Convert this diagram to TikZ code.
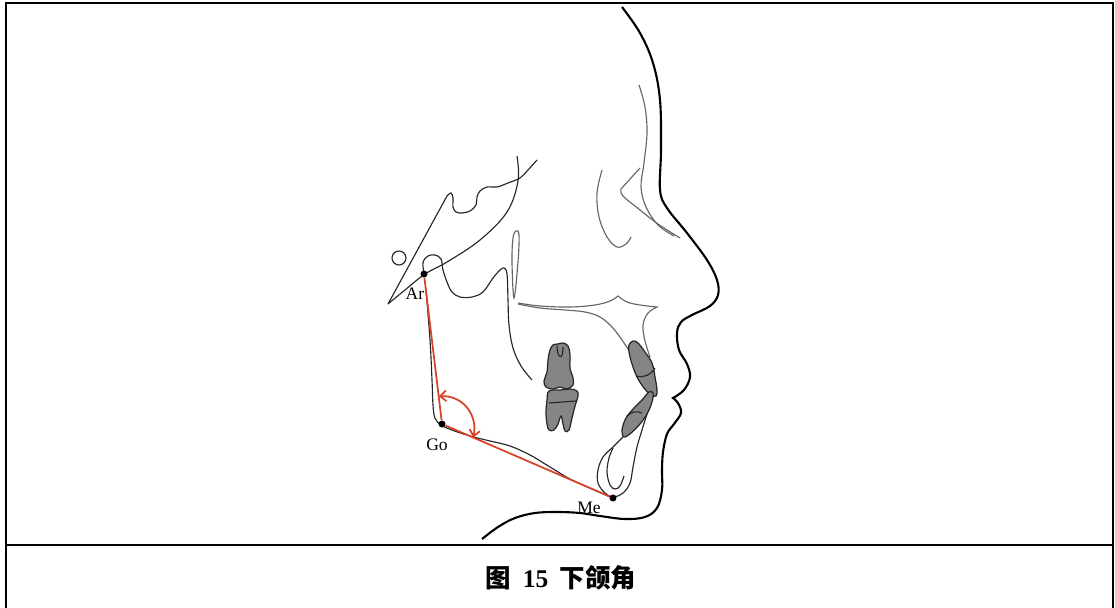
\documentclass[tikz,border=0pt]{standalone}
\usepackage{fontspec}
\setmainfont{Liberation Serif}
\newfontfamily\cjk{Noto Sans CJK SC}
\usetikzlibrary{arrows.meta,calc}
\definecolor{cephred}{RGB}{214,66,42}

\begin{document}
\begin{tikzpicture}[x=0.02cm,y=-0.02cm]
  \tikzstyle{frame}=[line width=1.1pt]
  \tikzstyle{profile}=[line width=1.2pt,black]
  \tikzstyle{bone}=[line width=0.65pt,black!85]
  \tikzstyle{soft}=[line width=0.65pt,black!60]
  \tikzstyle{tooth}=[line width=0.7pt,fill=black!48,draw=black!85]
  \tikzstyle{ceph}=[line width=1pt,draw=cephred]
  \tikzstyle{pt}=[circle,fill=black,inner sep=0pt,minimum size=4pt]
  \tikzstyle{lbl}=[font=\fontsize{10}{12}\selectfont,inner sep=0pt]
  \useasboundingbox (0,0) rectangle (1115,608);

  % frame and caption
  \draw[frame] (6,608) -- (6,3) -- (1113,3) -- (1113,608);
  \draw[frame] (6,545) -- (1113,545);
  \node (caption) at (561,578) {\fontsize{14.5}{17}\selectfont\bfseries
    \cjk 图\hspace{6.5pt}\rmfamily 15\hspace{6.5pt}\cjk 下颌角};

  % soft tissue profile
  \draw[profile] plot[smooth,tension=0.6] coordinates {(622,7) (640,33) (653,63) (660,100) (661,150)
    (660,190) (667,208) (687,233) (707,260) (717,280) (718,295) (710,306) (692,315) (681,322)
    (677,333) (679,350) (687,364) (690,377) (684,390) (673,398)}
    -- plot[smooth,tension=0.6] coordinates {(673,398) (678,403) (681,413) (674,424) (667,434)
    (663,452) (662,470) (662,490) (657,508) (645,517) (625,519) (600,516) (580,513) (557,512)
    (535,513) (515,518) (498,527) (482,539)};

  % cranial base and orbit
  \draw[bone] (399,258) circle (7);
  \draw[bone] (388,304) -- plot[smooth,tension=0.6] coordinates {(447,196) (451,193) (453,198)
    (453,207) (456,212) (462,213) (470,211) (476,205) (477,197) (480,191) (487,187) (497,187)
    (508,183) (520,178) (528,170) (537,160)};
  \draw[bone] plot[smooth,tension=0.6] coordinates {(388,304) (405,290) (425,274) (447,262)
    (480,240) (507,212) (518,181) (517,156)};
  \draw[soft] plot[smooth,tension=0.6] coordinates {(602,170) (597,193) (599,217) (607,237)
    (617,247) (626,244) (631,237)};
  \draw[soft] plot[smooth,tension=0.6] coordinates {(639,85) (645,107) (647,133) (644,163)
    (641,187) (646,207) (658,225) (674,236)};
  \draw[soft] (640,168) -- plot[smooth,tension=0.6] coordinates {(621,189) (623,196) (640,210)
    (658,224) (680,238)};

  % mandible, ramus and palate
  \draw[bone] plot[smooth,tension=0.6] coordinates {(424,273) (423,262) (428,256) (435,255)
    (441,259) (443,270) (447,282) (452,292) (460,297) (472,297) (483,292) (493,278) (500,270)
    (504,268) (507,274) (508,300) (509,325) (513,348) (521,366) (532,380)};
  \draw[soft] plot[smooth cycle,tension=0.6] coordinates {(514,298) (512,262) (513,238) (516,231)
    (519,235) (518,262)};
  \draw[soft] plot[smooth,tension=0.6] coordinates {(518,303) (540,306) (570,307) (595,305)
    (610,301) (618,296)} -- plot[smooth,tension=0.6] coordinates {(618,296) (627,302) (640,305)
    (657,307)} -- plot[smooth,tension=0.6] coordinates {(657,307) (648,313) (643,325) (645,341)
    (650,357)};
  \draw[soft] plot[smooth,tension=0.6] coordinates {(518,304) (540,308) (565,310) (585,312)
    (600,317) (612,327) (622,340) (630,352)};
  \draw[bone] plot[smooth,tension=0.6] coordinates {(426,290) (430,340) (432,380) (433,405)
    (435,418) (441,425) (452,430) (470,436) (490,441) (510,446) (530,455) (550,467) (570,479)
    (592,489) (613,498)};
  \draw[bone] plot[smooth,tension=0.6] coordinates {(623,437) (613,447) (603,457) (598,470)
    (598,483) (605,493) (613,497) (623,493) (630,483) (633,467) (637,447) (642,430) (647,414)};
  \draw[bone] plot[smooth,tension=0.6] coordinates {(613,448) (609,458) (607,472) (610,485)
    (615,489) (620,486) (624,476)};

  % teeth
  \draw[tooth] plot[smooth cycle,tension=0.6] coordinates {(553,345) (550,350) (548,360) (547,372)
    (544,381) (546,387) (553,389) (560,387) (567,389) (573,385) (573,378) (570,368) (570,355)
    (568,346) (563,343) (558,344)};
  \draw[tooth] plot[smooth cycle,tension=0.6] coordinates {(549,391) (547,400) (546,413) (547,424)
    (549,430) (554,430) (558,424) (561,416) (563,424) (565,431) (569,430) (572,418) (575,406)
    (578,396) (577,391) (570,389) (560,390)};
  \draw[bone] (557,346) .. controls (557,358) and (563,362) .. (563,347);
  \draw[bone] (549,403) -- (576,401);
  \draw[tooth] plot[smooth cycle,tension=0.6] coordinates {(629,345) (633,341) (638,343) (645,352)
    (652,363) (655,377) (657,390) (656,396) (651,395) (644,388) (637,377) (632,364) (629,352)};
  \draw[bone] (636,376) .. controls (642,378) and (650,376) .. (655,368);
  \draw[tooth] plot[smooth cycle,tension=0.6] coordinates {(624,437) (622,430) (626,418) (634,408)
    (642,400) (649,392) (653,393) (652,402) (647,414) (640,424) (631,433)};
  \draw[bone] (627,416) .. controls (632,411) and (637,411) .. (642,413);

  % gonial angle
  \node[pt] (ar) at (424,274) {};
  \node[pt] (go) at (442,424) {};
  \node[pt] (me) at (613,498) {};
  \draw[ceph] (ar) -- (go) -- (me);
  \coordinate (a1) at ($(go)!0.185!(ar)$);
  \coordinate (a2) at ($(go)!0.183!(me)$);
  \draw[ceph,{Straight Barb[length=3.5pt,width=6pt]}-{Straight Barb[length=3.5pt,width=6pt]}]
    (a1) .. controls (462,395) and (478,414) .. (a2);
  \node[lbl] (arlbl) at (415,294) {Ar};
  \node[lbl] (golbl) at (437,445) {Go};
  \node[lbl] (melbl) at (589,508) {Me};
\end{tikzpicture}
\end{document}
